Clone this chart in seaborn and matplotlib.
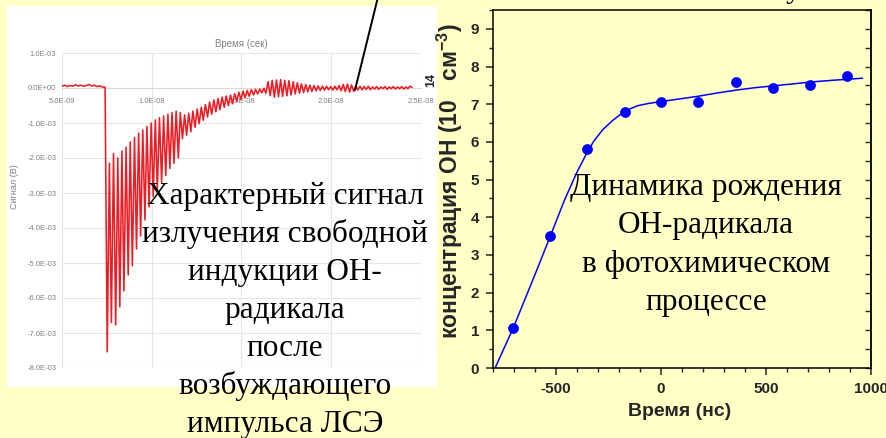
import numpy as np
import pandas as pd
import matplotlib
matplotlib.use("Agg")
import matplotlib.pyplot as plt
from matplotlib.lines import Line2D
from matplotlib.patches import Rectangle
from matplotlib.ticker import MultipleLocator
import seaborn as sns

# ---------------- data ----------------
# left inset: free-induction signal (time in ns, signal in mV)
sig_t_ns = [5.00, 5.15, 5.30, 5.45, 5.60, 5.75, 5.90, 6.05, 6.20, 6.35, 6.50, 6.65, 6.80, 6.95, 7.10, 7.25, 7.40,
            7.52, 7.64, 7.75, 7.87, 7.99, 8.11, 8.22, 8.34, 8.45, 8.57,
            8.69, 8.80, 8.92, 9.04, 9.15, 9.27, 9.38, 9.50, 9.62, 9.73,
            9.85, 9.97, 10.08, 10.20, 10.31, 10.43, 10.55, 10.66, 10.78, 10.90,
            11.01, 11.13, 11.24, 11.36, 11.48, 11.59, 11.71, 11.83, 11.94, 12.06,
            12.18, 12.29, 12.41, 12.53, 12.64, 12.76, 12.87, 12.99, 13.11, 13.22,
            13.34, 13.46, 13.57, 13.69, 13.80, 13.92, 14.04, 14.15, 14.27, 14.39,
            14.50, 14.62, 14.74, 14.85, 14.97, 15.09, 15.20, 15.32, 15.43, 15.55,
            15.67, 15.78, 15.90, 16.02, 16.13, 16.25, 16.36, 16.48, 16.60, 16.71,
            16.83, 16.95, 17.06, 17.18, 17.29, 17.41, 17.53, 17.64, 17.76, 17.88,
            17.99, 18.11, 18.23, 18.34, 18.46, 18.58, 18.69, 18.81, 18.92, 19.04,
            19.16, 19.27, 19.39, 19.51, 19.62, 19.74, 19.85, 19.97, 20.09, 20.20,
            20.32, 20.44, 20.55, 20.67, 20.78, 20.90, 21.02, 21.13, 21.25, 21.37,
            21.48, 21.60, 21.72, 21.83, 21.95, 22.07, 22.18, 22.30, 22.41, 22.53,
            22.65, 22.76, 22.88, 23.00, 23.11, 23.23, 23.34, 23.46, 23.58, 23.69,
            23.81, 23.93, 24.04, 24.16, 24.27, 24.39, 24.50]
sig_mv = [0.05, 0.08, 0.04, 0.07, 0.05, 0.09, 0.06, 0.08, 0.05, 0.07, 0.10, 0.06, 0.08, 0.04, 0.06, 0.03, 0.02,
          -7.54, -2.15, -6.70, -1.87, -6.77, -2.00, -6.25, -1.80, -5.80, -1.69,
          -5.34, -1.54, -5.08, -1.41, -4.60, -1.29, -4.23, -1.20, -3.77, -1.10,
          -3.40, -1.00, -3.10, -0.91, -2.90, -0.85, -2.70, -0.80, -2.50, -0.75,
          -2.30, -0.70, -2.15, -0.66, -2.00, -0.70, -1.45, -0.77, -1.35, -0.72,
          -1.25, -0.66, -1.12, -0.60, -1.02, -0.55, -0.92, -0.47, -0.83, -0.40,
          -0.75, -0.34, -0.68, -0.30, -0.62, -0.26, -0.55, -0.23, -0.50, -0.20,
          -0.45, -0.16, -0.38, -0.12, -0.33, -0.09, -0.28, -0.07, -0.24, -0.05,
          -0.20, -0.04, -0.17, -0.03, -0.14, -0.01, -0.15, 0.18, -0.22, 0.22,
          -0.26, 0.23, -0.25, 0.24, -0.24, 0.22, -0.22, 0.21, -0.20, 0.18,
          -0.17, 0.15, -0.15, 0.12, -0.13, 0.10, -0.11, 0.08, -0.10, 0.07,
          -0.08, 0.06, -0.07, 0.05, -0.06, 0.05, -0.05, 0.04, -0.06, 0.05,
          -0.05, 0.07, -0.08, 0.10, -0.10, 0.11, -0.12, 0.09, -0.10, 0.06,
          -0.06, 0.05, -0.05, 0.04, -0.04, 0.05, -0.05, 0.03, -0.03, 0.04,
          -0.04, 0.03, -0.02, 0.04, -0.04, 0.03, -0.02, 0.04, -0.03, 0.03,
          -0.02, 0.04, -0.03, 0.03, -0.02, 0.05, 0.02]
sig_xticks = [5e-9, 1e-8, 1.5e-8, 2e-8, 2.5e-8]
sig_xticklabels = ["5.0E-09", "1.0E-08", "1.5E-08", "2.0E-08", "2.5E-08"]
sig_yticks = [1e-3, 0.0, -1e-3, -2e-3, -3e-3, -4e-3, -5e-3, -6e-3, -7e-3, -8e-3]
sig_yticklabels = ["1.0E-03", "0.0E+00", "-1.0E-03", "-2.0E-03", "-3.0E-03",
                   "-4.0E-03", "-5.0E-03", "-6.0E-03", "-7.0E-03", "-8.0E-03"]

# right panel: OH concentration vs time
oh_t = [-705, -529, -350, -172, 2, 178, 355, 531, 708, 884]
oh_c = [1.05, 3.50, 5.80, 6.80, 7.05, 7.05, 7.60, 7.42, 7.50, 7.75]
fit_t = [-790, -703, -600, -527, -460, -400, -349, -320, -278, -230, -190, -150,
         -111, -60, 0, 100, 175, 270, 365, 450, 540, 630, 714, 830, 960]
fit_c = [0.0, 1.07, 2.48, 3.50, 4.45, 5.20, 5.75, 6.02, 6.32, 6.57, 6.74, 6.87,
         6.96, 7.02, 7.07, 7.15, 7.21, 7.30, 7.38, 7.44, 7.49, 7.54, 7.59, 7.64, 7.69]
oh_xticks = [-500, 0, 500, 1000]
oh_yticks = [0, 1, 2, 3, 4, 5, 6, 7, 8, 9]

left_lines = ["Характерный сигнал", "излучения свободной", "индукции ОН-", "радикала",
              "после", "возбуждающего", "импульса ЛСЭ"]
right_lines = ["Динамика рождения", "ОН-радикала", "в фотохимическом", "процессе"]

# ---------------- style ----------------
sns.set_style("ticks")
plt.rcParams["font.family"] = ["Liberation Sans", "DejaVu Sans"]
plt.rcParams["mathtext.fontset"] = "custom"
plt.rcParams["mathtext.rm"] = "Liberation Sans"
plt.rcParams["mathtext.bf"] = "Liberation Sans:bold"

BG = "#FFFFC6"
W, H = 887, 438


def fx(px):
    return px / W


def fy(py):
    return 1 - py / H


fig = plt.figure(figsize=(W / 100, H / 100), dpi=100)
fig.patch.set_facecolor(BG)

# white inset background
fig.add_artist(Rectangle((fx(7), fy(387)), fx(437) - fx(7), fy(6) - fy(387),
                         transform=fig.transFigure, facecolor="white",
                         edgecolor="none", zorder=0))

# ---------------- left inset chart ----------------
ax1 = fig.add_axes([fx(62), fy(368), (421 - 62) / W, (368 - 53) / H])
ax1.patch.set_alpha(0)
df_sig = pd.DataFrame({"t": np.array(sig_t_ns) * 1e-9, "v": np.array(sig_mv) * 1e-3})
sns.lineplot(data=df_sig, x="t", y="v", ax=ax1, color="#EE1C24", lw=1.15,
             estimator=None, sort=False, zorder=3)
ax1.set_xlim(5e-9, 2.5e-8)
ax1.set_ylim(-8e-3, 1e-3)
ax1.set_xticks(sig_xticks)
ax1.set_xticklabels(sig_xticklabels)
ax1.set_yticks(sig_yticks)
ax1.set_yticklabels(sig_yticklabels)
ax1.grid(True, color="#E6E6E6", lw=0.8)
ax1.set_axisbelow(True)
for s in ["top", "right", "left"]:
    ax1.spines[s].set_visible(False)
ax1.spines["bottom"].set_position(("data", 0))
ax1.spines["bottom"].set_color("#D9D9D9")
ax1.spines["bottom"].set_linewidth(0.8)
small_font = ["Liberation Sans Narrow", "Liberation Sans"]
ax1.tick_params(axis="both", length=0, labelsize=5.5, labelcolor="#808080")
ax1.tick_params(axis="x", pad=7)
ax1.tick_params(axis="y", pad=4)
for lab in ax1.get_xticklabels() + ax1.get_yticklabels():
    lab.set_family(small_font)
ax1.set_xlabel("")
ax1.set_ylabel("")
ax1.set_title("Время (сек)", fontsize=7, color="#808080", pad=4, family=small_font)
fig.text(fx(15), fy(187), "Сигнал (В)", rotation=90, ha="center", va="center",
         fontsize=6.5, color="#808080", family=small_font)

# ---------------- right chart ----------------
ax2 = fig.add_axes([fx(493), fy(368), (871 - 493) / W, (368 - 10) / H])
ax2.set_facecolor(BG)
sns.lineplot(x=fit_t, y=fit_c, ax=ax2, color="#0000FF", lw=1.1,
             estimator=None, sort=False, zorder=2)
sns.scatterplot(x=oh_t, y=oh_c, ax=ax2, color="#0000FF", s=52,
                edgecolor="#0000FF", linewidth=0.5, zorder=3)
ax2.set_xlim(-800, 1000)
ax2.set_ylim(0, 9.5)
ax2.set_xticks(oh_xticks)
ax2.set_xticklabels([str(v) for v in oh_xticks])
ax2.set_yticks(oh_yticks)
ax2.set_yticklabels([str(v) for v in oh_yticks])
ax2.xaxis.set_minor_locator(MultipleLocator(100))
ax2.yaxis.set_minor_locator(MultipleLocator(0.5))
for s in ax2.spines.values():
    s.set_linewidth(1.1)
    s.set_color("black")
ax2.tick_params(axis="both", which="major", direction="out", length=5, width=1.1,
                labelsize=11, pad=5)
ax2.tick_params(axis="both", which="minor", direction="out", length=3, width=1.0)
for lab in ax2.get_xticklabels() + ax2.get_yticklabels():
    lab.set_fontweight("bold")
ax2.set_xlabel("")
ax2.set_ylabel("")
sec = ax2.secondary_yaxis("right")
sec.set_yticks(oh_yticks)
sec.yaxis.set_minor_locator(MultipleLocator(0.5))
sec.tick_params(which="both", direction="in", length=4, width=1.0, labelright=False)
sec.spines["right"].set_linewidth(1.1)

fig.text(fx(680), fy(412), "Время (нс)", ha="center", va="center",
         fontsize=14, fontweight="bold")
fig.text(fx(450), fy(181), "концентрация ОН (10   см$^{\\mathbf{-3}}$)", rotation=90,
         ha="center", va="center", fontsize=16.5, fontweight="bold")
fig.text(fx(431), fy(80), "14", rotation=90, ha="center", va="center",
         fontsize=9, fontweight="bold")

# ---------------- overlay captions ----------------
serif = ["Liberation Serif", "DejaVu Serif"]
for i, line in enumerate(left_lines):
    fig.text(fx(285), fy(204 + 38.0 * i), line, ha="center", va="baseline",
             fontsize=22.5, family=serif, color="black", zorder=5)
for i, line in enumerate(right_lines):
    fig.text(fx(706), fy(195 + 38.3 * i), line, ha="center", va="baseline",
             fontsize=22.5, family=serif, color="black", zorder=5)
fig.text(fx(793), fy(-3), "у", ha="center", va="baseline", fontsize=22.5,
         family=serif, color="black")

# pointer line
fig.add_artist(Line2D([fx(378), fx(355)], [fy(-3), fy(90)], transform=fig.transFigure,
                      color="black", lw=1.4, zorder=6))

fig.savefig("out.png", dpi=100, facecolor=BG)
